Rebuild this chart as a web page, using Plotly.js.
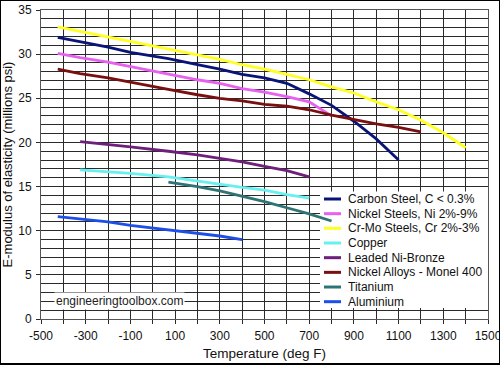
<!DOCTYPE html>
<html>
<head>
<meta charset="utf-8">
<script src="https://cdn.plot.ly/plotly-3.0.1.min.js"></script>
<style>
  html, body { margin: 0; padding: 0; background: #fff; }
  #wrap { position: relative; width: 500px; height: 365px; }
  #wrap:after { content: ""; position: absolute; left: 0; top: 0; right: 0; bottom: 0;
    border-top: 1px solid #000; border-left: 1px solid #000; border-right: 1px solid #000; border-bottom: 2px solid #000;
    pointer-events: none; }
  #chart { width: 500px; height: 365px; }
</style>
</head>
<body>
<div id="wrap"><div id="chart"></div></div>
<script>
// ---- Data (temperature in deg F, E-modulus in millions psi) ----
const seriesNames = [
  "Carbon Steel, C < 0.3%",
  "Nickel Steels, Ni 2%-9%",
  "Cr-Mo Steels, Cr 2%-3%",
  "Copper",
  "Leaded Ni-Bronze",
  "Nickel Alloys - Monel 400",
  "Titanium",
  "Aluminium"
];

const carbonT = [-425, -325, -200, -100, 70, 200, 300, 400, 500, 600, 700, 800, 900, 1000, 1100];
const carbonE = [31.9, 31.4, 30.8, 30.2, 29.5, 28.8, 28.3, 27.7, 27.3, 26.7, 25.5, 24.2, 22.4, 20.4, 18.0];

const nickelSteelT = [-425, -325, -200, -100, 70, 200, 300, 400, 500, 600, 700, 800];
const nickelSteelE = [30.1, 29.6, 29.1, 28.6, 27.8, 27.1, 26.7, 26.1, 25.7, 25.2, 24.6, 23.0];

const crMoT = [-425, -325, -200, -100, 70, 200, 300, 400, 500, 600, 700, 800, 900, 1000, 1100, 1200, 1300, 1400];
const crMoE = [33.1, 32.6, 31.9, 31.4, 30.6, 29.9, 29.4, 28.8, 28.3, 27.7, 27.1, 26.3, 25.6, 24.6, 23.7, 22.5, 21.1, 19.4];

const copperT = [-325, -200, -100, 70, 200, 300, 400, 500, 600, 700];
const copperE = [16.9, 16.7, 16.5, 16.1, 15.6, 15.3, 14.9, 14.6, 14.1, 13.7];

const bronzeT = [-325, -200, -100, 70, 200, 300, 400, 500, 600, 700];
const bronzeE = [20.1, 19.8, 19.5, 19.0, 18.6, 18.2, 17.8, 17.3, 16.8, 16.1];

const monelT = [-425, -325, -200, -100, 70, 200, 300, 400, 500, 600, 700, 800, 900, 1000, 1100, 1200];
const monelE = [28.3, 27.8, 27.3, 26.8, 26.0, 25.4, 25.0, 24.7, 24.3, 24.1, 23.7, 23.1, 22.6, 22.1, 21.7, 21.2];

const titaniumT = [70, 200, 300, 400, 500, 600, 700, 800];
const titaniumE = [15.5, 15.0, 14.5, 13.9, 13.3, 12.6, 11.9, 11.1];

const aluminiumT = [-425, -325, -200, -100, 70, 200, 300, 400];
const aluminiumE = [11.6, 11.3, 11.0, 10.6, 10.1, 9.7, 9.4, 9.0];

const xTickVals = [-500, -300, -100, 100, 300, 500, 700, 900, 1100, 1300, 1500];
const xTickText = ["-500", "-300", "-100", "100", "300", "500", "700", "900", "1100", "1300", "1500"];
const yTickVals = [0, 5, 10, 15, 20, 25, 30, 35];

// ---- Styles ----
const colors = ["#0a1478", "#e860f0", "#ffff22", "#66f0f0", "#6e1f7a", "#7a0f0f", "#2e7474", "#1e4ee8"];
const allT = [carbonT, nickelSteelT, crMoT, copperT, bronzeT, monelT, titaniumT, aluminiumT];
const allE = [carbonE, nickelSteelE, crMoE, copperE, bronzeE, monelE, titaniumE, aluminiumE];

const FONT = "Liberation Sans, Arial, Helvetica, sans-serif";
const GRID = "#2a2a2a";

const traces = seriesNames.map((name, i) => ({
  type: "scatter",
  mode: "lines",
  name: name,
  x: allT[i],
  y: allE[i],
  line: { color: colors[i], width: 2.8 },
  showlegend: false,
  hoverinfo: "x+y+name"
}));

// plot area in pixels: left 41, right 488, top 10, bottom 319
const L = 41, R = 488, T = 10, B = 319;
const X_RANGE = [-500, 1500], Y_RANGE = [0, 35];
const px2paperX = p => (p - L) / (R - L);
const px2paperY = p => (B - p) / (B - T);
const px2dataX = p => X_RANGE[0] + px2paperX(p) * (X_RANGE[1] - X_RANGE[0]);
const px2dataY = p => Y_RANGE[0] + px2paperY(p) * (Y_RANGE[1] - Y_RANGE[0]);

// legend box: white, above gridlines but below the traces
const shapes = [{
  type: "rect", xref: "x", yref: "y", layer: "between",
  x0: px2dataX(320), x1: X_RANGE[1], y0: px2dataY(308), y1: px2dataY(191.5),
  fillcolor: "#ffffff", line: { width: 0 }
}];
const annotations = [];
seriesNames.forEach((name, i) => {
  const yc = px2paperY(199 + 14.67 * i);
  shapes.push({
    type: "line", xref: "paper", yref: "paper", layer: "above",
    x0: px2paperX(324), x1: px2paperX(341), y0: yc, y1: yc,
    line: { color: colors[i], width: 3 }
  });
  annotations.push({
    xref: "paper", yref: "paper", x: px2paperX(346), y: yc,
    xanchor: "left", yanchor: "middle", showarrow: false,
    text: name, font: { family: FONT, size: 12, color: "#111" }
  });
});
annotations.push({
  xref: "x", yref: "y", x: -149, y: 2.0, showarrow: false,
  text: "engineeringtoolbox.com", bgcolor: "#ffffff", borderpad: 1,
  font: { family: FONT, size: 12, color: "#222" }
});

const layout = {
  width: 500, height: 365,
  margin: { l: L, r: 500 - R, t: T, b: 365 - B },
  paper_bgcolor: "#ffffff", plot_bgcolor: "#ffffff",
  font: { family: FONT, size: 12, color: "#111" },
  xaxis: {
    range: X_RANGE, tickmode: "array", tickvals: xTickVals, ticktext: xTickText,
    ticklabeloverflow: "allow",
    showgrid: true, gridcolor: GRID, gridwidth: 1,
    minor: { dtick: 100, tick0: -500, showgrid: true, gridcolor: GRID, gridwidth: 1, ticks: "outside", ticklen: 4, tickcolor: GRID },
    ticks: "outside", ticklen: 4, tickcolor: GRID, ticklabelstandoff: 2,
    zeroline: false, showline: true, linecolor: "#555", linewidth: 1, mirror: true,
    tickfont: { family: FONT, size: 12, color: "#111" },
    title: { text: "Temperature (deg F)", font: { family: FONT, size: 13.5, color: "#111" }, standoff: 6 }
  },
  yaxis: {
    range: Y_RANGE, tickmode: "array", tickvals: yTickVals,
    showgrid: true, gridcolor: GRID, gridwidth: 1,
    minor: { dtick: 1, tick0: 0, showgrid: true, gridcolor: GRID, gridwidth: 1 },
    ticks: "outside", ticklen: 4, tickcolor: GRID, ticklabelstandoff: 2,
    zeroline: false, showline: true, linecolor: "#555", linewidth: 1, mirror: true,
    tickfont: { family: FONT, size: 12, color: "#111" },
    title: { text: "E-modulus of elasticity (millions psi)", font: { family: FONT, size: 13, color: "#111" }, standoff: 6 }
  },
  shapes: shapes,
  annotations: annotations,
  showlegend: false
};

Plotly.newPlot("chart", traces, layout, { staticPlot: true, displayModeBar: false });
</script>
</body>
</html>
